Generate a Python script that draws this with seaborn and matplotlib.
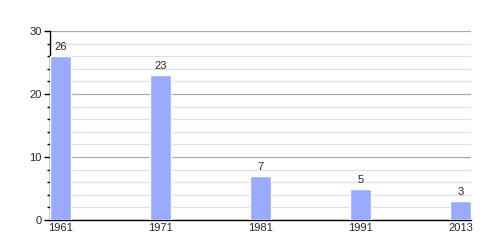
import matplotlib
matplotlib.use("Agg")
import matplotlib.pyplot as plt
import seaborn as sns
import pandas as pd
from matplotlib.ticker import MultipleLocator

years = ["1961", "1971", "1981", "1991", "2013"]
values = [26, 23, 7, 5, 3]

df = pd.DataFrame({"year": years, "value": values})

sns.set_style("white")
plt.rcParams["font.family"] = ["Liberation Sans", "DejaVu Sans"]

fig = plt.figure(figsize=(5, 2.5), dpi=100)
ax = fig.add_axes([0.1, 0.12, 0.842, 0.756])

sns.barplot(data=df, x="year", y="value", color="#99aaff", width=0.21,
            saturation=1, ax=ax, zorder=3)

ax.set_xlim(-0.105, 4.105)
ax.set_ylim(0, 30)
ax.yaxis.set_major_locator(MultipleLocator(10))
ax.yaxis.set_minor_locator(MultipleLocator(2))
ax.grid(which="major", axis="y", color="#a8a8a8", linewidth=0.9, zorder=0)
ax.grid(which="minor", axis="y", color="#e0e0e0", linewidth=0.9, zorder=0)
ax.set_axisbelow(True)

for s in ["top", "right"]:
    ax.spines[s].set_visible(False)
for s in ["left", "bottom"]:
    ax.spines[s].set_color("black")
    ax.spines[s].set_linewidth(1)

ax.tick_params(axis="y", which="major", direction="out", length=4, width=1,
               color="black", labelsize=8, pad=2, left=True)
ax.tick_params(axis="y", which="minor", direction="out", length=2, width=1,
               color="black", left=True)
ax.tick_params(axis="x", which="both", length=0, labelsize=8, pad=2)

for i, v in enumerate(values):
    ax.text(i, v + 0.6, str(v), ha="center", va="bottom", fontsize=8)

ax.set_xlabel("")
ax.set_ylabel("")

fig.savefig("out.png", dpi=100)
